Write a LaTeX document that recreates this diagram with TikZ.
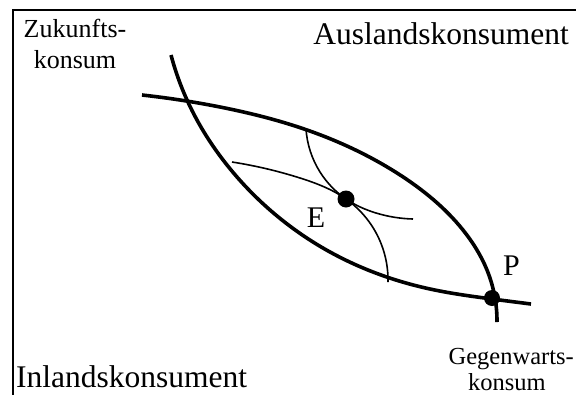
\documentclass[tikz,border=0pt]{standalone}
\usepackage{fontspec}
\setmainfont{Liberation Serif}
\usetikzlibrary{hobby}
\begin{document}
\begin{tikzpicture}[x=1pt,y=-1pt,
  frame/.style={line width=1.8pt},
  thickcurve/.style={line width=3.6pt,use Hobby shortcut},
  thincurve/.style={line width=1.6pt,use Hobby shortcut},
  dot/.style={circle,fill=black,inner sep=0pt,minimum size=#1},
  lbl/.style={inner sep=0pt,anchor=base,font=\fontsize{#1}{#1}\selectfont}]
\useasboundingbox (0,0) rectangle (576,394);
\draw[frame] (13,430) -- (13,10) -- (600,10);
% indifference curves
\draw[thickcurve] (171,55) .. (187,100) .. (237,177) .. (330,252) .. (430,289) .. (492,299) .. (531,304);
\draw[thickcurve] (142,95) .. (220,107) .. (307,130) .. (397,173) .. (463,230) .. (487,270) .. (497,322);
\draw[thincurve] (232,162) .. (300,178) .. (346,199) .. (372,226) .. (388,282);
\draw[thincurve] (306,129) .. (320,172) .. (346,199) .. (376,213) .. (413,219);
\node[dot=17pt] (E) at (346,199) {};
\node[dot=16pt] (P) at (492,298) {};
\node[lbl=30] (Elbl) at (316,227) {E};
\node[lbl=30] (Plbl) at (511.5,275) {P};
\node[lbl=26] (z1) at (75,37) {Zukunfts-};
\node[lbl=26] (z2) at (75,68) {konsum};
\node[lbl=31.5,anchor=base east] (aus) at (569,44) {Auslandskonsument};
\node[lbl=31.5,anchor=base west] (inl) at (16,387) {Inlandskonsument};
\node[lbl=24.5,anchor=base east] (g1) at (574,364) {Gegenwarts-};
\node[lbl=24.5] (g2) at (507,390) {konsum};
\end{tikzpicture}
\end{document}
